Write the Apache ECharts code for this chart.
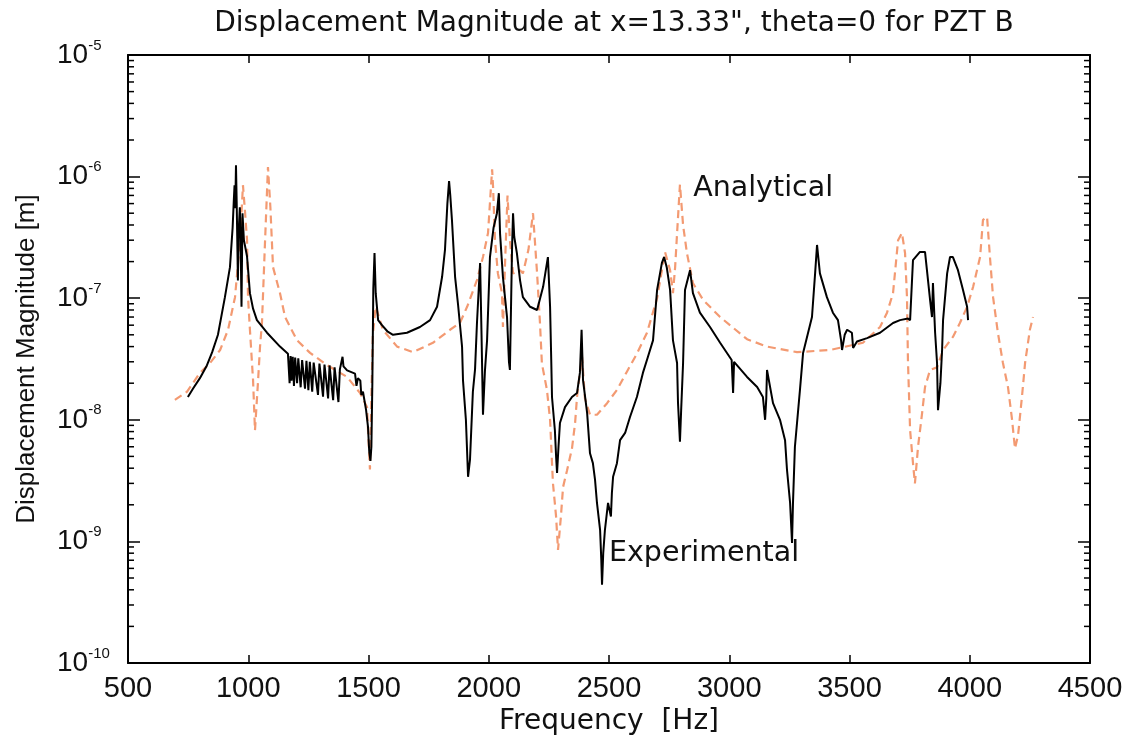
<!DOCTYPE html>
<html><head><meta charset="utf-8">
<script src="https://cdn.jsdelivr.net/npm/echarts@6/dist/echarts.min.js"></script>
<style>html,body{margin:0;padding:0;background:#fff}#c{width:1130px;height:740px}</style>
</head><body><div id="c"></div>
<script>
// Experimental (black solid)
const expFreq = [749,770,799,828,850,874,903,924,935,940,943,946,949,952,955,957,960,965,968,972,976,982,995,1007,1020,1036,1078,1132,1165,
1170,1172,1176,1180,1185,1190,1195,1203,1208,1218,1224,1236,1242,1250,1256,1266,1272,1290,1296,1311,1317,1332,1338,1353,1359,1375,1381,
1388,1392,1396,1411,1444,1450,1456,1466,1470,1477,1490,1498,1503,1508,1512,1516,1520,1525,1530,1540,1556,1580,1602,1660,1714,1756,1785,1806,1818,1828,1835,1840,1847,1860,1872,1889,1893,1905,1914,1922,1934,1943,1951,1964,1970,1976,1984,1993,2005,2020,2034,2042,2047,2059,2076,2084,2088,2097,2101,2106,2117,2130,2142,2172,2201,2226,2246,2255,2260,2263,2275,2280,2284,2290,2296,2317,2346,2367,2379,2386,2390,2392,2409,2421,2433,2442,2450,2463,2468,2471,2476,2483,2496,2508,2512,2517,2533,2546,2567,2587,2616,2641,2662,2683,2700,2720,2729,2740,2754,2766,2783,2787,2795,2800,2808,2816,2830,2837,2849,2878,2920,2962,3010,3016,3020,3074,3116,3140,3149,3154,3157,3182,3211,3232,3240,3253,3261,3265,3273,3294,3307,3315,3344,3357,3365,3377,3406,3431,3452,3465,3469,3480,3490,3510,3515,3531,3573,3627,3681,3710,3743,3752,3764,3793,3814,3822,3835,3843,3847,3856,3864,3868,3878,3885,3889,3906,3918,3930,3951,3972,3989,3993];
const expMag = [1.54e-8,1.8e-8,2.2e-8,2.8e-8,3.6e-8,5.0e-8,1.02e-7,1.8e-7,3.8e-7,6.4e-7,8.5e-7,5.5e-7,1.24e-6,6e-7,2.5e-7,1.4e-7,3.5e-7,5.6e-7,3.2e-7,8.5e-8,5.0e-7,3.0e-7,2.2e-7,1.1e-7,8.2e-8,6.6e-8,5.2e-8,4.0e-8,3.5e-8,
3.4e-8,2.0e-8,3.35e-8,2.1e-8,3.3e-8,1.9e-8,3.25e-8,2.0e-8,3.2e-8,1.85e-8,3.1e-8,1.8e-8,3.05e-8,1.75e-8,3.0e-8,1.7e-8,2.95e-8,1.6e-8,2.9e-8,1.55e-8,2.85e-8,1.5e-8,2.8e-8,1.45e-8,2.7e-8,1.4e-8,2.6e-8,
2.6e-8,3.3e-8,2.75e-8,2.55e-8,2.4e-8,1.9e-8,2.2e-8,2.1e-8,1.6e-8,1.7e-8,1.2e-8,8.7e-9,5.5e-9,4.6e-9,6e-9,2.0e-8,1.2e-7,2.35e-7,1.1e-7,6.6e-8,6.0e-8,5.3e-8,5.0e-8,5.2e-8,5.8e-8,6.6e-8,8.5e-8,1.5e-7,2.5e-7,6e-7,9.2e-7,7e-7,4.4e-7,1.5e-7,9e-8,4.0e-8,2.1e-8,1.0e-8,3.4e-9,4.7e-9,1.7e-8,2.6e-8,6.25e-8,1.95e-7,5e-8,1.1e-8,2.5e-8,4.5e-8,2.18e-7,3.8e-7,5.0e-7,7.3e-7,3.4e-7,1.49e-7,7e-8,3e-8,2.57e-8,2.64e-7,5.0e-7,3.2e-7,2.35e-7,1.41e-7,1.02e-7,8.5e-8,8e-8,1.24e-7,2.18e-7,8.5e-8,3e-8,1.54e-8,8.2e-9,5e-9,3.65e-9,6e-9,9.4e-9,1.27e-8,1.54e-8,1.66e-8,2.43e-8,5.5e-8,3e-8,2.12e-8,1.14e-8,5.3e-9,4.4e-9,3.2e-9,2.07e-9,1.24e-9,7e-10,4.4e-10,8e-10,1.24e-9,2.07e-9,1.6e-9,2.5e-9,3.4e-9,4.4e-9,6.8e-9,7.8e-9,1.05e-8,1.54e-8,2.43e-8,3.3e-8,4.5e-8,1.17e-7,1.95e-7,2.18e-7,1.8e-7,1.17e-7,4.5e-8,2.93e-8,1.37e-8,6.6e-9,1.2e-8,2.93e-8,1.17e-7,1.5e-7,1.7e-7,1.1e-7,7.6e-8,5.8e-8,4.3e-8,3.1e-8,1.66e-8,3.0e-8,2.25e-8,1.86e-8,1.54e-8,1.0e-8,1.5e-8,2.57e-8,1.37e-8,1.0e-8,6.8e-9,3.9e-9,2.07e-9,9.7e-10,2.07e-9,6e-9,1.76e-8,3.55e-8,3.6e-8,7e-8,1.6e-7,2.74e-7,1.6e-7,1.02e-7,7.6e-8,6.6e-8,4.5e-8,3.75e-8,5e-8,5.5e-8,5.2e-8,3.9e-8,4.4e-8,4.7e-8,5.2e-8,6.25e-8,6.6e-8,6.8e-8,6.6e-8,2.06e-7,2.4e-7,2.4e-7,1.7e-7,9.7e-8,7e-8,1.33e-7,5.2e-8,2.93e-8,1.2e-8,2e-8,3.75e-8,6.6e-8,1.6e-7,2.18e-7,2.18e-7,1.7e-7,1.17e-7,8.5e-8,6.6e-8];

// Analytical (orange dashed)
const anaFreq = [695,745,799,841,883,916,945,966,978,987,995,999,1007,1020,1028,1041,1049,1057,1070,1082,1092,1103,1132,1153,1203,1257,1330,1411,1465,1494,1498,1506,1512,1518,1530,1560,1619,1685,1768,1839,1880,1910,1951,1976,1997,2014,2018,2026,2038,2055,2059,2068,2078,2088,2101,2130,2142,2165,2184,2201,2213,2221,2242,2255,2263,2267,2280,2288,2300,2309,2325,2346,2359,2367,2379,2388,2400,2421,2450,2492,2533,2575,2616,2658,2700,2733,2754,2766,2775,2783,2795,2808,2824,2849,2891,2962,3074,3157,3282,3419,3556,3627,3656,3681,3702,3718,3731,3739,3743,3752,3764,3772,3785,3802,3814,3835,3864,3889,3930,3959,3989,4014,4043,4055,4072,4084,4097,4117,4138,4159,4176,4188,4201,4217,4230,4250,4263];
const anaMag = [1.46e-8,1.7e-8,2.43e-8,2.93e-8,3.75e-8,5.5e-8,1.02e-7,3.0e-7,8.5e-7,5e-7,3e-7,1.02e-7,5.5e-8,2.12e-8,8.2e-9,2.12e-8,4e-8,6.25e-8,3e-7,1.2e-6,5.6e-7,1.8e-7,1.1e-7,7e-8,4.5e-8,3.55e-8,2.8e-8,2.25e-8,1.66e-8,1.27e-8,8.2e-9,3.9e-9,1.5e-8,5e-8,8.5e-8,5.5e-8,4e-8,3.6e-8,4.3e-8,5.5e-8,6.25e-8,8.5e-8,1.41e-7,2.18e-7,3.44e-7,1.15e-6,8.2e-7,3.0e-7,1.6e-7,1.1e-7,5.8e-8,2e-7,7e-7,3e-7,1.6e-7,1.7e-7,1.6e-7,2.5e-7,5.0e-7,1.6e-7,6.25e-8,2.9e-8,1.76e-8,1.0e-8,4.4e-9,3e-9,1.6e-9,8.5e-10,1.6e-9,2.8e-9,3.8e-9,5.8e-9,9.4e-9,1.54e-8,2.43e-8,3.3e-8,1.5e-8,1.1e-8,1.1e-8,1.37e-8,1.76e-8,2.5e-8,3.5e-8,5.2e-8,1e-7,2.4e-7,1.7e-7,1.1e-7,1.8e-7,3.4e-7,8.6e-7,4e-7,2.35e-7,1.33e-7,9.7e-8,7e-8,4.6e-8,4e-8,3.6e-8,3.75e-8,4.3e-8,5.8e-8,7.6e-8,1.1e-7,3e-7,3.44e-7,2.35e-7,1.02e-7,3.1e-8,8.2e-9,4.4e-9,3.0e-9,6e-9,1.14e-8,1.86e-8,2.57e-8,2.7e-8,3.75e-8,4.8e-8,6.25e-8,8.5e-8,1.24e-7,2.18e-7,4.4e-7,4.66e-7,2.18e-7,1.02e-7,5.2e-8,2.93e-8,1.86e-8,1.0e-8,5.8e-9,7.5e-9,1.54e-8,2.93e-8,5.5e-8,7e-8];

const xTicks = [500,1000,1500,2000,2500,3000,3500,4000,4500];
const yDecades = [-10,-9,-8,-7,-6,-5];
const minorMult = [2,3,4,5,6,7,8,9];

const expData = expFreq.map((f,i)=>[f, expMag[i]]);
const anaData = anaFreq.map((f,i)=>[f, anaMag[i]]);
const minorTicks = [];
yDecades.slice(0,-1).forEach(k=>minorMult.forEach(m=>minorTicks.push([xTicks[0], m*Math.pow(10,k)])));

const txt = '#111';
const chart = echarts.init(document.getElementById('c'), null, {renderer:'canvas'});
const yLabel = {
  show:true, inside:false, align:'left', margin:71,
  formatter: v => '{a|10}{b|' + Math.round(Math.log10(v)) + '}',
  rich:{
    a:{fontSize:28, fontFamily:'Liberation Sans', color:txt, lineHeight:34},
    b:{fontSize:15, fontFamily:'Liberation Sans', color:txt, verticalAlign:'top', lineHeight:34, padding:[0,0,14,0]}
  }
};
chart.setOption({
  animation:false,
  backgroundColor:'#fff',
  title:{text:'Displacement Magnitude at x=13.33", theta=0 for PZT B', left:609, textAlign:'center', top:5,
    textStyle:{fontFamily:'DejaVu Sans', fontSize:28, fontWeight:'normal', color:txt}},
  grid:{left:128, right:40, top:55, bottom:77, containLabel:false, outerBoundsMode:'none'},
  xAxis:[{
    type:'value', min:xTicks[0], max:xTicks[xTicks.length-1], interval:500, position:'bottom',
    name:'Frequency  [Hz]', nameLocation:'middle', nameGap:42,
    nameTextStyle:{fontFamily:'DejaVu Sans', fontSize:28, color:txt},
    axisLine:{show:true, onZero:false, lineStyle:{color:'#000', width:2}},
    axisTick:{show:true, inside:true, length:8, lineStyle:{color:'#000', width:1.5}},
    axisLabel:{show:true, margin:11, fontSize:29, fontFamily:'Liberation Sans', color:txt, formatter:v=>String(v)},
    splitLine:{show:false}
  },{
    type:'value', min:xTicks[0], max:xTicks[xTicks.length-1], interval:500, position:'top',
    axisLine:{show:true, onZero:false, lineStyle:{color:'#000', width:2}},
    axisTick:{show:true, inside:true, length:8, lineStyle:{color:'#000', width:1.5}},
    axisLabel:{show:false}, splitLine:{show:false}
  }],
  yAxis:[{
    type:'log', logBase:10, min:1e-10, max:1e-5, splitNumber:5, position:'left',
    name:'Displacement Magnitude [m]', nameLocation:'middle', nameGap:88, nameRotate:90,
    nameTextStyle:{fontFamily:'Liberation Sans', fontSize:26, color:txt},
    axisLine:{show:true, onZero:false, lineStyle:{color:'#000', width:2}},
    axisTick:{show:true, inside:true, length:12, lineStyle:{color:'#000', width:1.5}},
    axisLabel:yLabel, splitLine:{show:false}, minorTick:{show:false}
  },{
    type:'log', logBase:10, min:1e-10, max:1e-5, splitNumber:5, position:'right',
    axisLine:{show:true, onZero:false, lineStyle:{color:'#000', width:2}},
    axisTick:{show:true, inside:true, length:12, lineStyle:{color:'#000', width:1.5}},
    axisLabel:{show:false}, splitLine:{show:false}
  }],
  series:[
    {
      type:'line', name:'Analytical', data:anaData, xAxisIndex:0, yAxisIndex:0,
      showSymbol:false, symbol:'none', smooth:false,
      lineStyle:{color:'#f39a72', width:2.2, type:[8,5]},
      markPoint:{symbol:'circle', symbolSize:0, silent:true,
        label:{show:true, position:'right', distance:0, formatter:'Analytical', fontFamily:'DejaVu Sans', fontSize:28.5, color:txt},
        data:[{coord:[2850, 7.9e-7], value:0}]}
    },
    {
      type:'line', name:'Experimental', data:expData, xAxisIndex:0, yAxisIndex:0,
      showSymbol:false, symbol:'none', smooth:false,
      lineStyle:{color:'#000', width:2},
      markPoint:{symbol:'circle', symbolSize:0, silent:true,
        label:{show:true, position:'right', distance:0, formatter:'Experimental', fontFamily:'DejaVu Sans', fontSize:28.5, color:txt},
        data:[{coord:[2500, 8.0e-10], value:0}]}
    },
    {
      type:'custom', xAxisIndex:0, yAxisIndex:0, silent:true, clip:false, data:minorTicks,
      renderItem:(params, api)=>{
        const cs = params.coordSys;
        const y = api.coord([api.value(0), api.value(1)])[1];
        const st = {stroke:'#000', lineWidth:1.5};
        return {type:'group', children:[
          {type:'line', shape:{x1:cs.x, y1:y, x2:cs.x+6, y2:y}, style:st},
          {type:'line', shape:{x1:cs.x+cs.width-6, y1:y, x2:cs.x+cs.width, y2:y}, style:st}
        ]};
      }
    }
  ]
});
</script>
</body></html>
